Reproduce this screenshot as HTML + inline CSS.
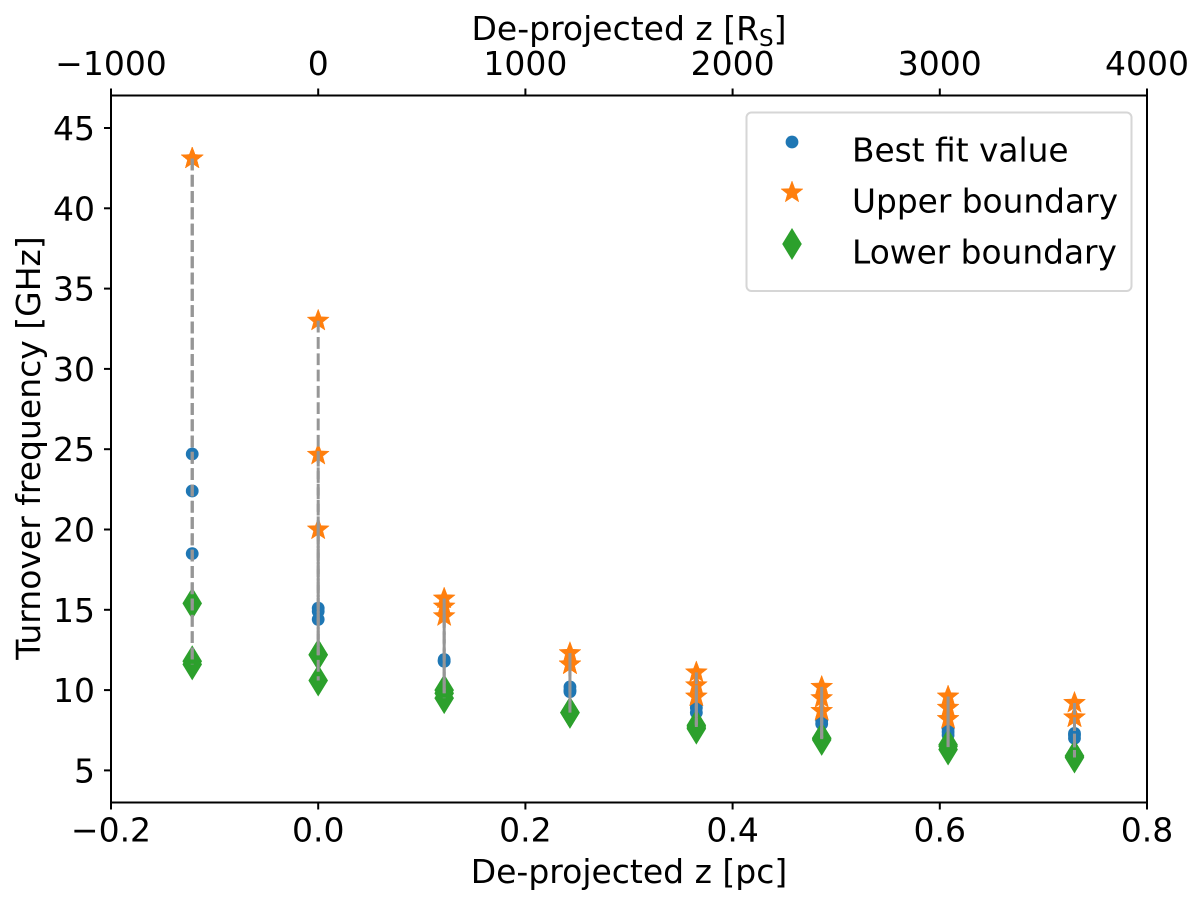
<!DOCTYPE html>
<html>
<head>
<meta charset="utf-8">
<style>
html,body{margin:0;padding:0;background:#fff;width:1200px;height:904px;overflow:hidden}
svg{display:block}
text{font-family:"DejaVu Sans","Liberation Sans",sans-serif;font-size:33px;fill:#000}
</style>
</head>
<body>
<svg id="chart" width="1200" height="904" viewBox="0 0 1200 904" xmlns="http://www.w3.org/2000/svg">
  <rect width="1200" height="904" fill="#fff"/>
  <g id="markers"></g>
  <g id="lines-top"></g>
  <g id="axes"></g>
  <g>
    <rect x="746.5" y="112.5" width="385" height="178.5" rx="5" fill="#fff" fill-opacity="0.8" stroke="#d6d6d6" stroke-width="2"/>
    <g id="legend-icons"></g>
    <text x="852" y="161.5" style="font-size:32.8px">Best fit value</text>
    <text x="852" y="212.5" style="font-size:32.8px">Upper boundary</text>
    <text x="852" y="263.5" style="font-size:32.8px">Lower boundary</text>
  </g>
  <text x="629" y="883" text-anchor="middle">De-projected z [pc]</text>
  <text x="629" y="40" text-anchor="middle">De-projected z [R<tspan font-size="23px" dy="6">S</tspan><tspan dy="-6">]</tspan></text>
  <text transform="translate(40,448) rotate(-90)" text-anchor="middle">Turnover frequency [GHz]</text>
</svg>
<script>
const positions = [-0.1216, 0, 0.1216, 0.243, 0.365, 0.486, 0.608, 0.73];
const upperBoundary = [
  [43.1, 43.1, 43.1],
  [33.0, 24.65, 20.0],
  [15.7, 15.2, 14.6],
  [12.3, 11.6, 11.6],
  [11.1, 10.3, 9.6],
  [10.2, 9.5, 8.7],
  [9.6, 8.9, 8.2],
  [9.2, 8.3, 8.3]
];
const bestFit = [
  [24.7, 22.4, 18.5],
  [15.1, 14.9, 14.4],
  [11.9, 11.8, 11.8],
  [10.2, 10.0, 9.9],
  [9.1, 8.9, 8.6],
  [8.2, 8.1, 7.9],
  [7.6, 7.4, 7.2],
  [7.3, 7.2, 7.0]
];
const lowerBoundary = [
  [15.4, 11.8, 11.6],
  [12.2, 12.2, 10.6],
  [10.0, 9.8, 9.5],
  [8.6, 8.6, 8.6],
  [7.8, 7.7, 7.6],
  [7.0, 7.0, 6.9],
  [6.6, 6.5, 6.3],
  [5.9, 5.9, 5.8]
];
const xTicks = [-0.2, 0, 0.2, 0.4, 0.6, 0.8];
const xTickLabels = ['\u22120.2', '0.0', '0.2', '0.4', '0.6', '0.8'];
const topTicks = [-1000, 0, 1000, 2000, 3000, 4000];
const topTickLabels = ['\u22121000', '0', '1000', '2000', '3000', '4000'];
const yTicks = [5, 10, 15, 20, 25, 30, 35, 40, 45];
const yTickLabels = ['5', '10', '15', '20', '25', '30', '35', '40', '45'];

const NS = 'http://www.w3.org/2000/svg';
const L = 111, R = 1147, T = 95.5, B = 802.5;
const sx = v => L + (v + 0.2) / 1.0 * (R - L);
const sTop = v => L + (v + 1000) / 5000 * (R - L);
const sy = v => 770.4 - (v - 5) * 16.06;

function mk(tag, attrs, parent) {
  const el = document.createElementNS(NS, tag);
  for (const k in attrs) el.setAttribute(k, attrs[k]);
  parent.appendChild(el);
  return el;
}
function starPts(cx, cy, r) {
  const pts = [];
  for (let i = 0; i < 10; i++) {
    const rad = i % 2 === 0 ? r : r * 0.42;
    const a = -Math.PI / 2 + i * Math.PI / 5;
    pts.push((cx + rad * Math.cos(a)).toFixed(2) + ',' + (cy + rad * Math.sin(a)).toFixed(2));
  }
  return pts.join(' ');
}
function diamondPts(cx, cy) {
  return [[cx, cy - 16], [cx + 9.8, cy], [cx, cy + 16], [cx - 9.8, cy]].map(p => p.join(',')).join(' ');
}
function drawCircle(cx, cy, parent) {
  const el = mk('circle', { cx: cx, cy: cy, r: 6.4, fill: '#1f77b4' }, parent);
  
  
}
function drawStar(cx, cy, parent) {
  const el = mk('polygon', { points: starPts(cx, cy, 11.5), fill: '#ff7f0e', stroke: '#ff7f0e', 'stroke-width': 0.5 }, parent);
  
  
}
function drawDiamond(cx, cy, parent) {
  const el = mk('polygon', { points: diamondPts(cx, cy), fill: '#2ca02c' }, parent);
  
  
}

const markersG = document.getElementById('markers');
const linesG = document.getElementById('lines-top');
positions.forEach((p, i) => {
  const cx = sx(p);
  bestFit[i].forEach(v => drawCircle(cx, sy(v), markersG));
  upperBoundary[i].forEach(v => drawStar(cx, sy(v), markersG));
  lowerBoundary[i].forEach(v => drawDiamond(cx, sy(v), markersG));
  upperBoundary[i].forEach((u, j) => {
    const line = mk('line', {
      x1: cx, x2: cx, y1: sy(u), y2: sy(lowerBoundary[i][j]),
      stroke: '#969696', 'stroke-width': 3, 'stroke-dasharray': '11.8 4.5'
    }, linesG);
    
    
  });
});

const axesG = document.getElementById('axes');
const frame = mk('rect', { x: L, y: T, width: R - L, height: B - T, fill: 'none', stroke: '#000', 'stroke-width': 2 }, axesG);



xTicks.forEach((v, i) => {
  const x = sx(v);
  const t = mk('line', { x1: x, x2: x, y1: B, y2: B + 7, stroke: '#000', 'stroke-width': 2 }, axesG);
  
  
  const lb = mk('text', { x: x, y: 841.5, 'text-anchor': 'middle' }, axesG);
  
  
  lb.textContent = xTickLabels[i];
});
topTicks.forEach((v, i) => {
  const x = sTop(v);
  const t = mk('line', { x1: x, x2: x, y1: T, y2: T - 7, stroke: '#000', 'stroke-width': 2 }, axesG);
  
  
  const lb = mk('text', { x: x, y: 75, 'text-anchor': 'middle' }, axesG);
  
  
  lb.textContent = topTickLabels[i];
});
yTicks.forEach((v, i) => {
  const y = sy(v);
  const t = mk('line', { x1: L, x2: L - 7, y1: y, y2: y, stroke: '#000', 'stroke-width': 2 }, axesG);
  
  
  const lb = mk('text', { x: 95, y: y + 12, 'text-anchor': 'end' }, axesG);
  
  
  lb.textContent = yTickLabels[i];
});

const legendG = document.getElementById('legend-icons');
drawCircle(792, 142, legendG);
drawStar(792, 192.5, legendG);
drawDiamond(792, 244, legendG);
</script>
</body>
</html>
